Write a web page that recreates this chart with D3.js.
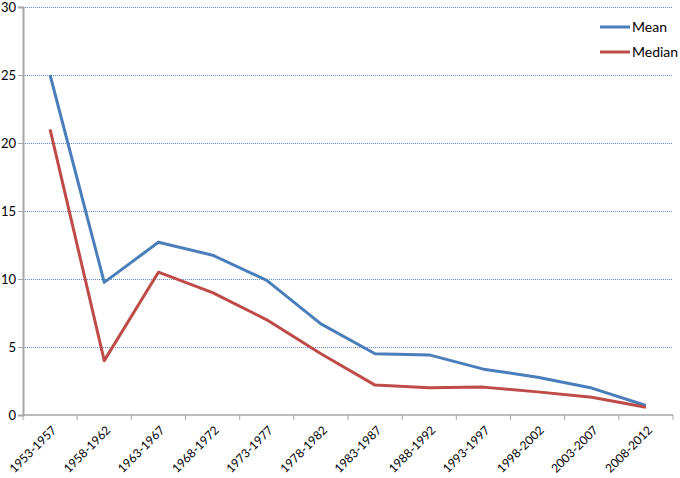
<!DOCTYPE html>
<html>
<head>
<meta charset="utf-8">
<script src="https://cdn.jsdelivr.net/npm/d3@7"></script>
<style>
  body { margin: 0; background: #fff; }
  text { font-family: Lato, "Open Sans", sans-serif; fill: #000; }
</style>
</head>
<body>
<svg id="chart" width="680" height="478"></svg>
<script>
const periods = ["1953-1957", "1958-1962", "1963-1967", "1968-1972", "1973-1977", "1978-1982",
  "1983-1987", "1988-1992", "1993-1997", "1998-2002", "2003-2007", "2008-2012"];
const meanValues = [25, 9.75, 12.7, 11.75, 9.9, 6.7, 4.5, 4.42, 3.37, 2.78, 1.98, 0.7];
const medianValues = [21, 4.0, 10.5, 9.0, 7.0, 4.5, 2.2, 2.0, 2.05, 1.7, 1.3, 0.57];
const yTicks = [0, 5, 10, 15, 20, 25, 30];

const series = [
  { name: "Mean", values: meanValues, color: "#4a7ebb" },
  { name: "Median", values: medianValues, color: "#be4b48" },
];

const svg = d3.select("#chart");
const margin = { left: 23, right: 7, top: 7, bottom: 63 };
const width = 680, height = 478;

const x = d3.scaleBand().domain(periods).range([margin.left, width - margin.right]);
const y = d3.scaleLinear().domain([0, 30]).range([height - margin.bottom, margin.top]);

// gridlines
svg.append("g")
  .selectAll("line")
  .data(yTicks.filter((d) => d > 0))
  .join("line")
  .attr("x1", margin.left)
  .attr("x2", width - margin.right)
  .attr("y1", (d) => Math.round(y(d)) + 0.5)
  .attr("y2", (d) => Math.round(y(d)) + 0.5)
  .attr("stroke", "#5b8fd0")
  .attr("stroke-width", 1)
  .attr("stroke-dasharray", "1,1");

// y axis
const yAxis = svg.append("g")
  .attr("transform", `translate(${margin.left},0)`)
  .call(d3.axisLeft(y).tickValues(yTicks).tickSize(5).tickPadding(2));
yAxis.select(".domain").attr("stroke", "#a6a6a6").attr("stroke-width", 2);
yAxis.selectAll(".tick line").attr("stroke", "#a6a6a6");
yAxis.selectAll("text").attr("font-size", 13).attr("font-family", "Lato, sans-serif");

// x axis with ticks at band boundaries
const xAxisG = svg.append("g").attr("transform", `translate(0,${y(0)})`);
xAxisG.append("line")
  .attr("x1", margin.left)
  .attr("x2", width - margin.right)
  .attr("stroke", "#a6a6a6")
  .attr("stroke-width", 1.5);
xAxisG.selectAll("line.tick")
  .data(periods.concat([null]))
  .join("line")
  .attr("class", "tick")
  .attr("x1", (d, i) => margin.left + i * x.step())
  .attr("x2", (d, i) => margin.left + i * x.step())
  .attr("y1", 0)
  .attr("y2", 5)
  .attr("stroke", "#a6a6a6");
xAxisG.selectAll("text")
  .data(periods)
  .join("text")
  .attr("transform", (d) => `translate(${x(d) + x.bandwidth() / 2 + 4},13) rotate(-45)`)
  .attr("text-anchor", "end")
  .attr("dy", "0.35em")
  .attr("font-size", 12)
  .text((d) => d);

// lines
const line = d3.line()
  .x((d, i) => x(periods[i]) + x.bandwidth() / 2)
  .y((d) => y(d));

svg.append("g")
  .selectAll("path")
  .data(series)
  .join("path")
  .attr("d", (d) => line(d.values))
  .attr("fill", "none")
  .attr("stroke", (d) => d.color)
  .attr("stroke-width", 3)
  .attr("stroke-linejoin", "round");

// legend
const legend = svg.append("g")
  .selectAll("g")
  .data(series)
  .join("g")
  .attr("transform", (d, i) => `translate(600,${27 + i * 25})`);
legend.append("line")
  .attr("x1", 0)
  .attr("x2", 30)
  .attr("stroke", (d) => d.color)
  .attr("stroke-width", 3);
legend.append("text")
  .attr("x", 32)
  .attr("dy", "0.35em")
  .attr("font-size", 14)
  .text((d) => d.name);
</script>
</body>
</html>
